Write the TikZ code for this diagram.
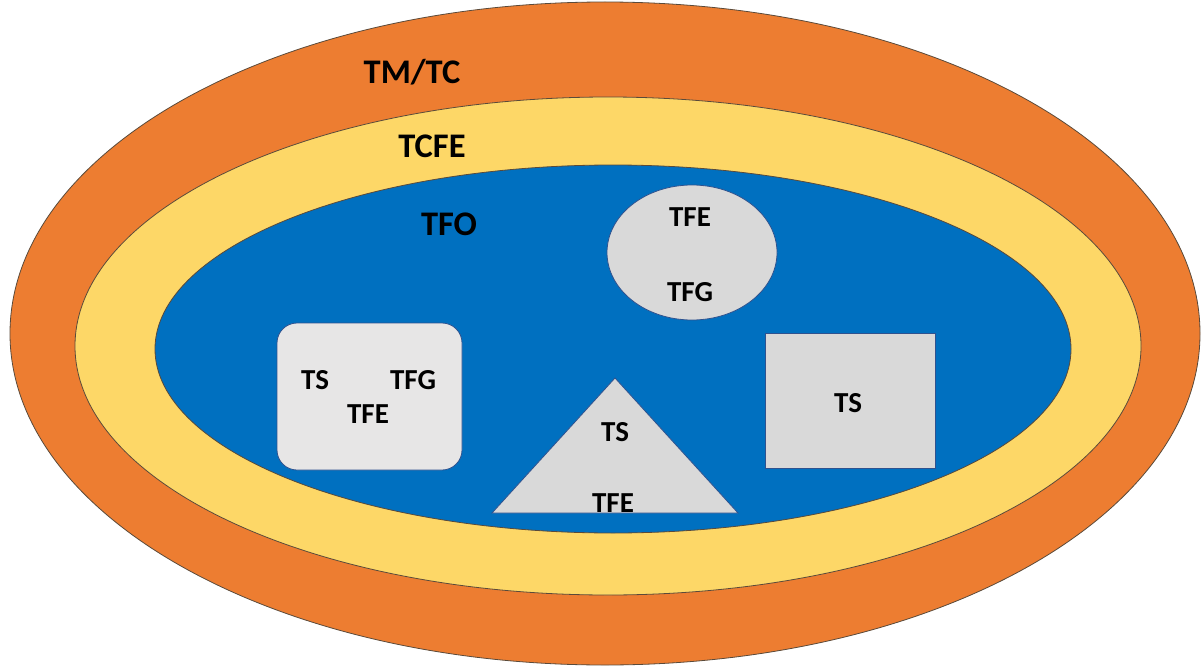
\documentclass[tikz,border=0pt]{standalone}
\usepackage{fontspec}
\setmainfont{Carlito}
\usetikzlibrary{shapes.geometric}
\definecolor{orangeR}{HTML}{ED7D31}
\definecolor{yellowR}{HTML}{FDD767}
\definecolor{blueR}{HTML}{0070C0}
\definecolor{grayA}{HTML}{D9D9D9}
\definecolor{grayB}{HTML}{E7E6E6}
\definecolor{edgeR}{HTML}{5A4A3A}
\definecolor{edgeB}{HTML}{2F528F}
\tikzset{
  ring/.style={ellipse, draw=edgeR, line width=0.8pt, inner sep=0pt},
  inshape/.style={draw=edgeB, line width=0.8pt, inner sep=0pt},
  biglabel/.style={font=\fontsize{34.5}{38}\selectfont\bfseries, inner sep=0pt},
  smlabel/.style={font=\fontsize{29}{32}\selectfont\bfseries, inner sep=0pt},
}
\begin{document}
\begin{tikzpicture}[x=1pt, y=-1pt]
\useasboundingbox (0,0) rectangle (1201,666);
\node[ring, fill=orangeR, minimum width=1190pt, minimum height=663pt] (tm) at (605,333.5) {};
\node[ring, fill=yellowR, minimum width=1066pt, minimum height=498pt] (tcfe) at (608,346) {};
\node[ring, fill=blueR, minimum width=916pt, minimum height=368pt] (tfo) at (613,349) {};

\node[biglabel] (ltm) at (412,72) {TM/TC};
\node[biglabel] (ltcfe) at (432,146) {TCFE};
\node[biglabel] (ltfo) at (449,224) {TFO};

% ellipse
\node[inshape, ellipse, fill=grayA, minimum width=170pt, minimum height=135pt] (ell) at (692,252.5) {};
\node[smlabel] (e1) at (690,217) {TFE};
\node[smlabel] (e2) at (690,292) {TFG};

% rounded rectangle
\node[inshape, rectangle, rounded corners=20pt, fill=grayB, minimum width=185pt, minimum height=147pt] (rr) at (369.5,396.5) {};
\node[smlabel] (r1) at (315,380) {TS};
\node[smlabel] (r2) at (413,380) {TFG};
\node[smlabel] (r3) at (368,414) {TFE};

% triangle
\coordinate (ta) at (615,378);
\coordinate (tl) at (492,513);
\coordinate (tr) at (738,513);
\draw[inshape, fill=grayA, line join=miter] (ta) -- (tl) -- (tr) -- cycle;
\node[smlabel] (t1) at (615,432) {TS};
\node[smlabel] (t2) at (613,503) {TFE};

% square
\node[inshape, rectangle, fill=grayA, minimum width=170pt, minimum height=135pt] (sq) at (850.5,400.5) {};
\node[smlabel] (s1) at (848,403) {TS};
\end{tikzpicture}
\end{document}
